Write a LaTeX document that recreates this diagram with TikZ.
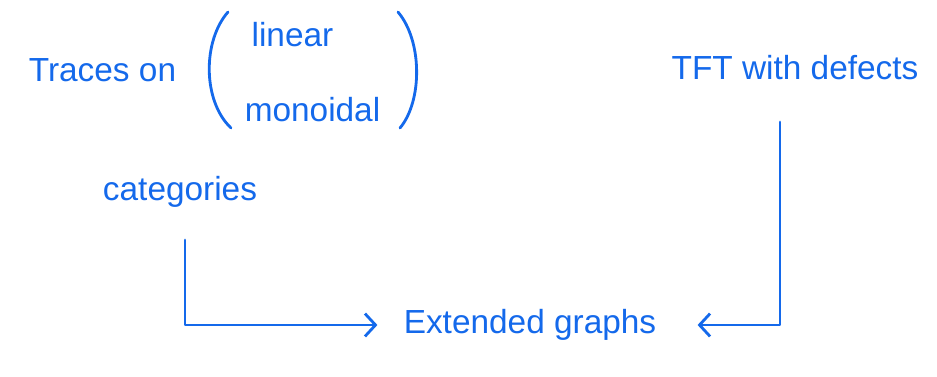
\documentclass[tikz,border=0pt]{standalone}
\usepackage{fontspec}
\setmainfont{Liberation Sans}
\usetikzlibrary{arrows.meta}
\definecolor{ink}{RGB}{20,105,235}
\tikzset{
  hand/.style={text=ink, font=\fontsize{19}{22}\selectfont, inner sep=2pt},
  pen/.style={draw=ink, line width=1.6pt, line cap=round, line join=round},
  tip/.style={-{Straight Barb[length=6pt,width=13pt]}},
}
\begin{document}
\begin{tikzpicture}
	\useasboundingbox (0,0) rectangle (18.74,7.52);
	
	% Left label with bracketed choice
	\node[hand] (traces) at (2.05,6.12) {Traces on};
	\node[hand] (linear) at (5.85,6.82) {linear};
	\node[hand] (monoidal) at (6.25,5.32) {monoidal};
	\node[hand] (cat) at (3.6,3.68) {categories};
	
	% Brackets (simplified)
	\draw[pen] (4.56,7.28) .. controls (4.05,6.7) and (4.05,5.5) .. (4.62,4.96);
	\draw[pen] (7.96,7.28) .. controls (8.45,6.7) and (8.45,5.5) .. (8.0,4.96);
	
	% Right label and target
	\node[hand] (tft) at (15.9,6.16) {TFT with defects};
	\node[hand] (ext) at (10.6,1.02) {Extended graphs};
	
	% Arrows
	\coordinate (catdrop) at (3.7,2.72);
	\coordinate (tftdrop) at (15.6,5.08);
	\draw[pen, tip, shorten >=0.45cm] (catdrop) |- (ext.west);
	\draw[pen, tip, shorten >=0.75cm] (tftdrop) |- (ext.east);
\end{tikzpicture}
\end{document}
